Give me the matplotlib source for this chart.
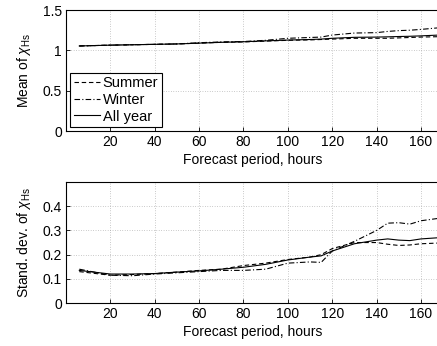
import matplotlib
matplotlib.use('Agg')
import matplotlib.pyplot as plt

plt.rcParams['font.family'] = ['Liberation Sans', 'DejaVu Sans']
plt.rcParams['mathtext.fontset'] = 'custom'
plt.rcParams['mathtext.rm'] = 'Liberation Sans'
plt.rcParams['mathtext.it'] = 'Liberation Sans:italic'

# Forecast period, hours
hours = [6, 20, 30, 40, 50, 60, 70, 80, 90, 100, 110, 115, 120, 130, 140, 145, 150, 155, 160, 168]

# Mean of chi_Hs
mean_summer = [1.055, 1.065, 1.07, 1.075, 1.08, 1.09, 1.10, 1.105, 1.115, 1.125, 1.13, 1.135, 1.14, 1.15, 1.15, 1.15, 1.155, 1.16, 1.165, 1.17]
mean_winter = [1.055, 1.065, 1.07, 1.075, 1.08, 1.095, 1.105, 1.11, 1.125, 1.15, 1.16, 1.165, 1.19, 1.215, 1.22, 1.235, 1.245, 1.25, 1.26, 1.28]
mean_all = [1.055, 1.065, 1.07, 1.075, 1.08, 1.09, 1.10, 1.107, 1.118, 1.128, 1.135, 1.14, 1.15, 1.162, 1.165, 1.168, 1.172, 1.175, 1.18, 1.19]

# Standard deviation of chi_Hs
std_summer = [0.13, 0.115, 0.118, 0.122, 0.128, 0.135, 0.14, 0.155, 0.165, 0.18, 0.19, 0.2, 0.225, 0.25, 0.25, 0.243, 0.238, 0.24, 0.245, 0.248]
std_winter = [0.14, 0.115, 0.113, 0.12, 0.125, 0.13, 0.135, 0.135, 0.14, 0.165, 0.17, 0.168, 0.215, 0.255, 0.30, 0.33, 0.332, 0.326, 0.34, 0.35]
std_all = [0.135, 0.12, 0.12, 0.122, 0.128, 0.133, 0.14, 0.148, 0.16, 0.178, 0.19, 0.195, 0.215, 0.245, 0.26, 0.265, 0.26, 0.258, 0.265, 0.27]

labels = ['Summer', 'Winter', 'All year']
styles = [(0, (4, 2.5)), (0, (5, 2, 1, 2)), '-']

fig = plt.figure(figsize=(4.37, 3.46), dpi=100)
ax1 = fig.add_axes([0.151, 0.621, 0.853, 0.350])
ax2 = fig.add_axes([0.151, 0.124, 0.853, 0.350])

for ax, series in [(ax1, [mean_summer, mean_winter, mean_all]),
                   (ax2, [std_summer, std_winter, std_all])]:
    for ys, ls, lab in zip(series, styles, labels):
        ax.plot(hours, ys, color='black', linestyle=ls, linewidth=0.8, label=lab)
    ax.set_xlim(0, 168)
    ax.set_xticks([20, 40, 60, 80, 100, 120, 140, 160])
    ax.grid(True, linestyle=(0, (1, 2.5)), color='#999999', linewidth=0.5)
    ax.tick_params(direction='in', length=3, labelsize=10, width=0.6, pad=3)
    ax.set_xlabel('Forecast period, hours', fontsize=10, labelpad=3)
    for s in ax.spines.values():
        s.set_linewidth(0.8)

ax1.set_ylim(0, 1.5)
ax1.set_yticks([0, 0.5, 1, 1.5])
ax1.set_yticklabels(['0', '0.5', '1', '1.5'])
ax1.set_ylabel(r'Mean of $\chi_{\mathrm{Hs}}$', fontsize=10, labelpad=7)

ax2.set_ylim(0, 0.5)
ax2.set_yticks([0, 0.1, 0.2, 0.3, 0.4])
ax2.set_yticklabels(['0', '0.1', '0.2', '0.3', '0.4'])
ax2.set_ylabel(r'Stand. dev. of $\chi_{\mathrm{Hs}}$', fontsize=10, labelpad=7)

leg = ax1.legend(loc='lower left', fontsize=10.5, fancybox=False, framealpha=1,
                 edgecolor='black', borderaxespad=0.27, handlelength=1.8,
                 handletextpad=0.2, borderpad=0.25, labelspacing=0.18)
leg.get_frame().set_linewidth(0.8)

fig.savefig('out.png', dpi=100)
